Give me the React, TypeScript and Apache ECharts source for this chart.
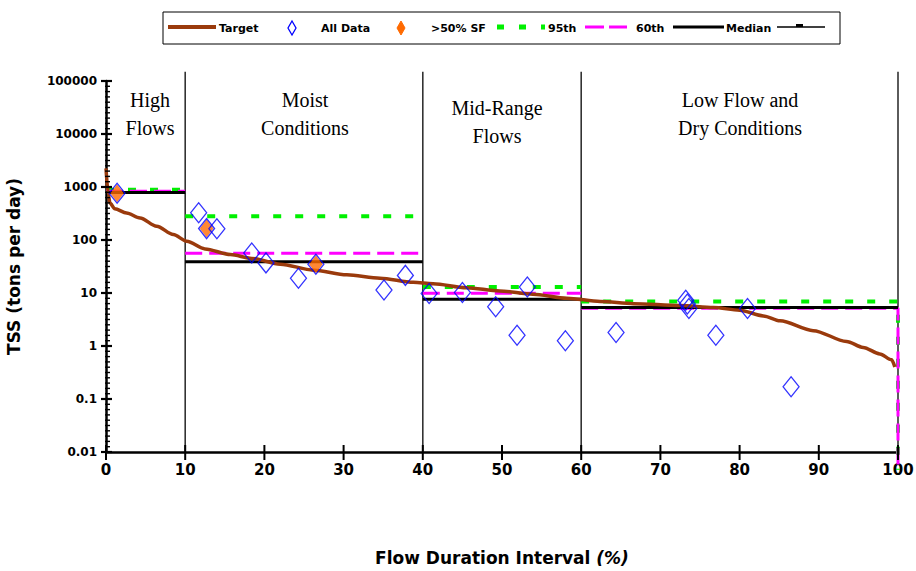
import React, { useEffect, useRef } from "react";
import * as echarts from "echarts";

// Load duration curve: x = flow duration interval (%), y = TSS load (tons/day, log scale)
const targetX = [0, 0.3, 0.5, 1.1, 2.6, 4.3, 6.4, 8.5, 10.2, 12.5, 15.7, 18.4, 22, 26.2, 30.4, 34.6, 38.8, 41.3, 45.5, 49.7, 53.9, 58.2, 62.4, 66.6, 72.5, 76.7, 80, 83, 85.1, 89.3, 93.5, 95.6, 97.7, 99.2, 99.6];
const targetY = [2250, 715, 497, 390, 322, 260, 182, 127, 95, 68, 53, 45, 35, 27, 22, 19, 15.9, 15, 12.6, 10.9, 9.5, 8.0, 6.9, 6.3, 5.8, 5.3, 4.75, 3.7, 3.0, 1.95, 1.22, 0.94, 0.71, 0.55, 0.4];

const allDataX = [1.4, 11.7, 12.7, 14.0, 18.4, 20.2, 24.3, 26.5, 35.1, 37.8, 40.8, 45.0, 49.2, 51.9, 53.2, 58.0, 64.4, 73.2, 73.4, 73.6, 77.0, 81.0, 86.5];
const allDataY = [760, 326, 164, 163, 57, 37, 19, 35, 11.4, 21.5, 9.8, 10.2, 5.5, 1.6, 13, 1.26, 1.8, 7.3, 6.2, 5.1, 1.6, 5.1, 0.17];

const sfX = [1.4, 12.7, 26.5];
const sfY = [760, 164, 35];

// Flow zones and per-zone statistics
const zoneEdges = [0, 10, 40, 60, 100];
const p95 = [885, 280, 13, 6.9];
const p60 = [835, 56, 9.9, 5.15];
const median = [790, 39, 7.65, 5.35];
// Where the last step drops off past the axis bottom
const p95End = 0.0046;
const p60End = 0.0057;

const zoneLabels = [
  { lines: ["High", "Flows"], x: 150, y: 100 },
  { lines: ["Moist", "Conditions"], x: 305, y: 100 },
  { lines: ["Mid-Range", "Flows"], x: 497, y: 108 },
  { lines: ["Low Flow and", "Dry Conditions"], x: 740, y: 100 },
];

const xTicks = { min: 0, max: 100, interval: 10 };
const xTickValues = [0, 10, 20, 30, 40, 50, 60, 70, 80, 90, 100];
const yTickValues = [0.01, 0.1, 1, 10, 100, 1000, 10000, 100000];
const yTickLabels = ["0.01", "0.1", "1", "10", "100", "1000", "10000", "100000"];
const dividerTop = 150000;
const dividerBottom = 0.01;

const FONT = '"DejaVu Sans", sans-serif';

function stepSeries(name: string, values: number[], lineStyle: any, endValue: number | null, z: number) {
  return values.map((v, i) => {
    const data: any[] = [
      [zoneEdges[i], v],
      [zoneEdges[i + 1], v],
    ];
    if (endValue !== null && i === values.length - 1) data.push([zoneEdges[i + 1], endValue]);
    return {
      name,
      type: "line",
      data,
      symbol: "none",
      clip: false,
      lineStyle,
      z,
      silent: true,
    };
  });
}

function segment(p1: number[], p2: number[], color: string, width: number, z: number) {
  return {
    type: "line",
    data: [p1, p2],
    symbol: "none",
    clip: false,
    lineStyle: { color, width },
    z,
    silent: true,
  };
}

// Tick marks crossing the axis lines, placed at pixel positions taken from the axis scales.
function tickGraphic(chart: echarts.ECharts) {
  const els: any[] = [];
  const toPx = (p: number[]) => chart.convertToPixel({ gridIndex: 0 }, p) as number[];
  const hLine = (y: number, x0: number, a: number, b: number, w: number) => ({
    type: "line",
    shape: { x1: x0 + a, y1: y, x2: x0 + b, y2: y },
    style: { stroke: "#000", lineWidth: w },
    z: 50,
    silent: true,
  });
  yTickValues.forEach((v, i) => {
    const p = toPx([xTicks.min, v]);
    els.push(hLine(p[1], p[0], -5, 6, 2.2));
    if (i < yTickValues.length - 1) {
      const next = toPx([xTicks.min, v * 10])[1];
      for (let k = 1; k < 10; k++) {
        const y = p[1] + ((next - p[1]) * k) / 10;
        els.push(hLine(y, p[0], -1, 4, 1.4));
      }
    }
  });
  xTickValues.forEach((x) => {
    const p = toPx([x, yTickValues[0]]);
    els.push({
      type: "line",
      shape: { x1: p[0], y1: p[1] - 7, x2: p[0], y2: p[1] + 8 },
      style: { stroke: "#000", lineWidth: 2 },
      z: 50,
      silent: true,
    });
  });
  return els;
}

function legendGraphic() {
  const cy = 28;
  const els: any[] = [
    { type: "rect", shape: { x: 163, y: 12, width: 677, height: 32 }, style: { fill: "#fff", stroke: "#000", lineWidth: 1 } },
    { type: "line", shape: { x1: 168, y1: cy - 1, x2: 216, y2: cy - 1 }, style: { stroke: "#9a3a0c", lineWidth: 4 } },
    { type: "polygon", shape: { points: [[292, cy - 7], [296, cy], [292, cy + 7], [288, cy]] }, style: { fill: "none", stroke: "#0000ff", lineWidth: 1.3 } },
    { type: "polygon", shape: { points: [[401, cy - 7], [405, cy], [401, cy + 7], [397, cy]] }, style: { fill: "#ff6a00", stroke: "#ff6a00", lineWidth: 1 } },
    { type: "line", shape: { x1: 497, y1: cy - 1, x2: 545, y2: cy - 1 }, style: { stroke: "#00f000", lineWidth: 5, lineDash: [7, 15] } },
    { type: "line", shape: { x1: 585, y1: cy - 1, x2: 627, y2: cy - 1 }, style: { stroke: "#ff00ff", lineWidth: 3, lineDash: [19, 5] } },
    { type: "line", shape: { x1: 673, y1: cy - 1, x2: 724, y2: cy - 1 }, style: { stroke: "#000", lineWidth: 3 } },
    { type: "line", shape: { x1: 777, y1: cy - 1, x2: 825, y2: cy - 1 }, style: { stroke: "#000", lineWidth: 1.5 } },
    { type: "rect", shape: { x: 796, y: cy - 4, width: 7, height: 3 }, style: { fill: "#000" } },
  ];
  const texts = [
    ["Target", 219],
    ["All Data", 321],
    [">50% SF", 431],
    ["95th", 548],
    ["60th", 636],
    ["Median", 726],
  ];
  texts.forEach(([t, x]) => {
    els.push({
      type: "text",
      x: x as number,
      y: cy,
      style: { text: t as string, fill: "#000", font: `bold 11px ${FONT}`, verticalAlign: "middle", align: "left" },
    });
  });
  return els;
}

function zoneTextGraphic() {
  const els: any[] = [];
  zoneLabels.forEach((z) => {
    z.lines.forEach((line, i) => {
      els.push({
        type: "text",
        x: z.x,
        y: z.y + i * 28,
        style: { text: line, fill: "#000", font: '20px "Liberation Serif", serif', align: "center", verticalAlign: "middle" },
      });
    });
  });
  return els;
}

export default function App() {
  const ref = useRef<HTMLDivElement>(null);

  useEffect(() => {
    if (!ref.current) return;
    const chart = echarts.init(ref.current, null, { renderer: "svg" });

    const dividers = zoneEdges.slice(1).map((x) => segment([x, dividerBottom], [x, dividerTop], "#333", 1.6, 1));

    const option: any = {
      animation: false,
      backgroundColor: "#fff",
      grid: { left: 106, right: 18, top: 81, bottom: 119, containLabel: false, outerBoundsMode: "none" },
      xAxis: {
        type: "value",
        min: xTicks.min,
        max: xTicks.max,
        interval: xTicks.interval,
        name: "Flow Duration Interval {i|(%)}",
        nameLocation: "middle",
        nameGap: 97,
        nameTextStyle: {
          fontFamily: FONT,
          fontWeight: "bold",
          fontSize: 17,
          color: "#000",
          rich: { i: { fontFamily: FONT, fontWeight: "bold", fontStyle: "italic", fontSize: 17, color: "#000" } },
        },
        axisLine: { lineStyle: { color: "#000", width: 2.5 } },
        axisTick: { show: false },
        axisLabel: { fontFamily: FONT, fontWeight: "bold", fontSize: 15, color: "#000", margin: 10 },
        splitLine: { show: false },
      },
      yAxis: {
        type: "log",
        logBase: 10,
        min: 0.01,
        max: 100000,
        name: "TSS (tons per day)",
        nameLocation: "middle",
        nameGap: 84,
        nameRotate: 90,
        nameTextStyle: { fontFamily: FONT, fontWeight: "bold", fontSize: 17, color: "#000" },
        axisLine: { lineStyle: { color: "#000", width: 2.5 } },
        axisTick: { show: false },
        axisLabel: {
          fontFamily: FONT,
          fontWeight: "bold",
          fontSize: 12,
          color: "#000",
          margin: 9,
          formatter: (v: number) => {
            const e = Math.round(Math.log10(v));
            return yTickLabels[e + 2] ?? "";
          },
        },
        splitLine: { show: false },
      },
      series: [
        ...dividers,
        ...stepSeries("95th", p95, { color: "#00f000", width: 4, type: [8, 14] }, p95End, 2),
        ...stepSeries("60th", p60, { color: "#ff00ff", width: 3, type: [17, 7] }, p60End, 3),
        ...stepSeries("Median", median, { color: "#000", width: 3 }, null, 4),
        {
          name: "Target",
          type: "line",
          data: targetX.map((x, i) => [x, targetY[i]]),
          symbol: "none",
          smooth: 0.3,
          smoothMonotone: "x",
          lineStyle: { color: "#9a3a0c", width: 3.5 },
          z: 5,
          silent: true,
        },
        {
          name: ">50% SF",
          type: "scatter",
          data: sfX.map((x, i) => [x, sfY[i]]),
          symbol: "diamond",
          symbolSize: [13, 17],
          itemStyle: { color: "#ff6a00", borderColor: "#e05000", borderWidth: 0.5 },
          z: 6,
          silent: true,
        },
        {
          name: "All Data",
          type: "scatter",
          data: allDataX.map((x, i) => [x, allDataY[i]]),
          symbol: "diamond",
          symbolSize: [16, 20],
          itemStyle: { color: "rgba(0,0,0,0)", borderColor: "#0000ff", borderWidth: 1.3 },
          z: 7,
          silent: true,
        },
      ],
      graphic: [...legendGraphic(), ...zoneTextGraphic()],
    };

    chart.setOption(option);
    // Ticks need the laid-out axes, so they are added once the first layout exists.
    chart.setOption(
      { graphic: [...legendGraphic(), ...zoneTextGraphic(), ...tickGraphic(chart)] },
      { replaceMerge: ["graphic"] }
    );
    return () => chart.dispose();
  }, []);

  return <div ref={ref} style={{ width: 916, height: 571, position: "absolute", left: 0, top: 0 }} />;
}
